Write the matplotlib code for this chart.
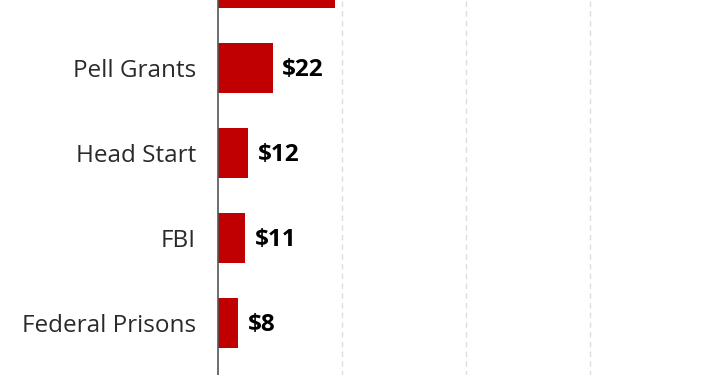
import matplotlib
matplotlib.use("Agg")
import matplotlib.pyplot as plt

categories = ["NIH", "Pell Grants", "Head Start", "FBI", "Federal Prisons"]
values = [47, 22, 12, 11, 8]
value_labels = ["$47", "$22", "$12", "$11", "$8"]
grid_ticks = [50, 100, 150, 200]

W, H = 710, 375
fig = plt.figure(figsize=(W / 100, H / 100), dpi=100)

pitch = 85.0
ytop_px = -17 - 0.5 * pitch        # top of axes in pixel coords (from top)
ybot_px = 323 + 0.75 * pitch
left_px, right_px = 218, 714
ax = fig.add_axes([left_px / W, (H - ybot_px) / H, (right_px - left_px) / W, (ybot_px - ytop_px) / H])

ypos = list(range(len(categories)))
ax.barh(ypos, values, height=0.59, color="#C00000", zorder=3)
ax.set_xlim(0, 200)
ax.set_ylim(len(categories) - 0.25, -0.5)

for y, v, lab in zip(ypos, values, value_labels):
    ax.annotate(lab, (v, y), xytext=(7, -1.5), textcoords="offset points",
                va="center", ha="left", fontsize=17.5, fontweight="bold",
                color="black", family=["Open Sans", "DejaVu Sans"])

ax.set_yticks(ypos)
ax.set_yticklabels(categories, fontsize=17.5, color="#2a2a2a", family=["Open Sans", "DejaVu Sans"])
ax.tick_params(axis="y", length=0, pad=16)
ax.set_xticks(grid_ticks)
ax.tick_params(axis="x", length=0, labelbottom=False)
ax.grid(axis="x", color="#dddddd", linestyle=(0, (4, 3)), linewidth=1, zorder=0)
for s in ["top", "right", "bottom"]:
    ax.spines[s].set_visible(False)
ax.spines["left"].set_color("#555555")
ax.spines["left"].set_linewidth(1.2)
ax.spines["left"].set_zorder(4)

fig.savefig("out.png", dpi=100)
